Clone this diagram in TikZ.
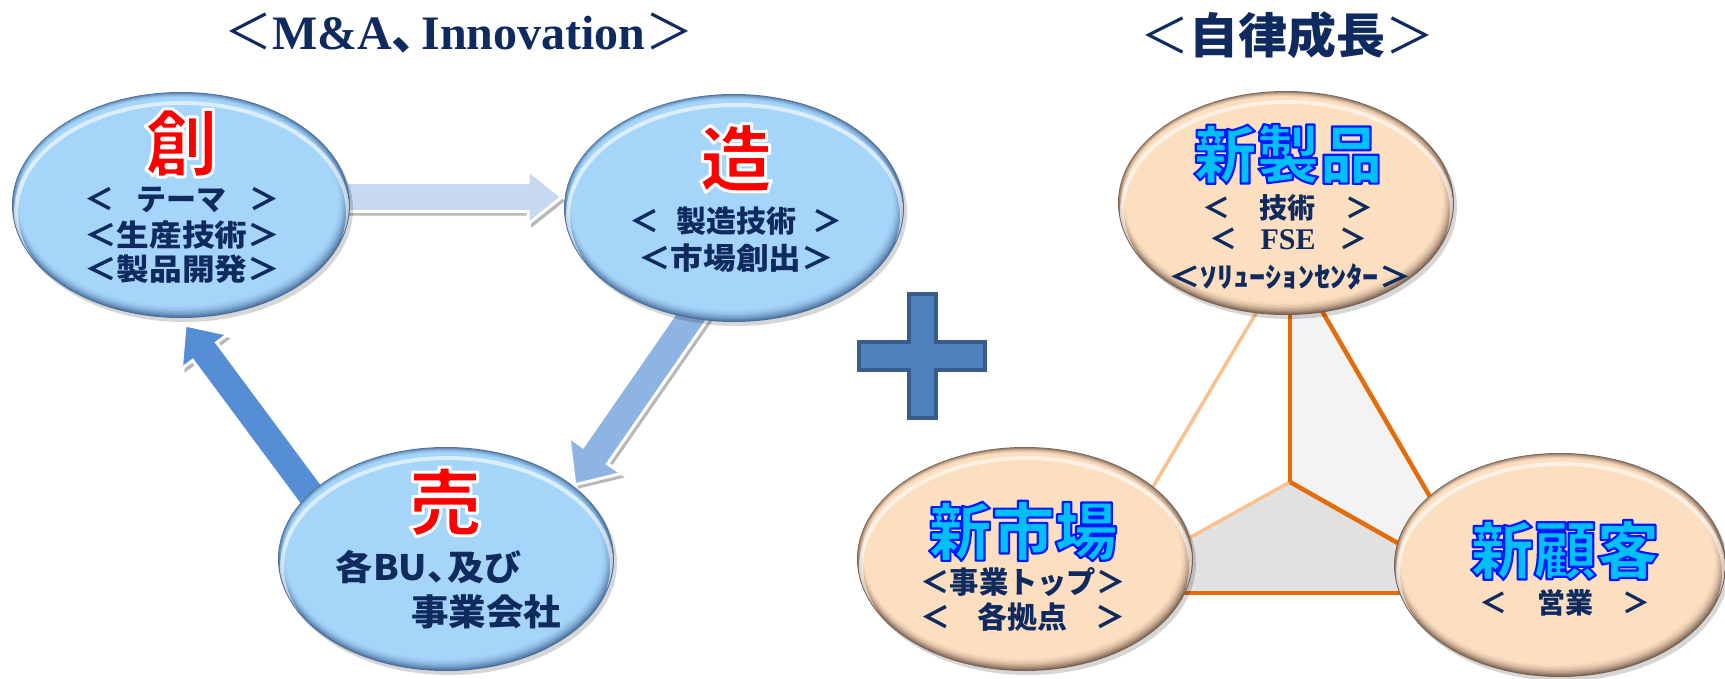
\documentclass[tikz,border=0pt]{standalone}
\usepackage{fontspec}
\setmainfont{Liberation Serif}
\newfontfamily\jp{Noto Sans CJK JP}
\usetikzlibrary{shapes.geometric,calc}
\definecolor{navy}{HTML}{0F2A5E}
\definecolor{bluebase}{HTML}{A6D5FA}
\definecolor{bluerim}{HTML}{4A6F9C}
\definecolor{peachbase}{HTML}{FCDEC0}
\definecolor{peachrim}{HTML}{7A6252}
\definecolor{arrA}{HTML}{C6D9F1}
\definecolor{arrB}{HTML}{8EB4E3}
\definecolor{arrC}{HTML}{558ED5}
\definecolor{plusfill}{HTML}{4F81BD}
\definecolor{plusline}{HTML}{385D8A}
\definecolor{darkor}{HTML}{E46C0A}
\definecolor{lightor}{HTML}{FAC090}
\definecolor{cyanhead}{HTML}{00C0FA}
\definecolor{faceA}{HTML}{F3F3F3}
\definecolor{faceB}{HTML}{E1E1E1}

% bevelled ellipse: cx, cy, rx, ry, base colour, rim colour
\newcommand\bevel[6]{%
  \fill[black, opacity=.16] (#1+3,#2+4) ellipse [x radius=#3, y radius=#4];
  \fill[#6] (#1,#2) ellipse [x radius=#3, y radius=#4];
  \foreach \i in {1,...,10} {%
    \pgfmathtruncatemacro\pc{100*(1-(1-\i/10)^2)}%
    \fill[#5!\pc!#6] (#1-0.25*\i,#2-0.35*\i) ellipse [x radius=#3-\i, y radius=#4-\i];
  }
  \begin{scope}
    \clip (#1,#2) ellipse [x radius=#3-1, y radius=#4-1];
    \draw[white, opacity=.6, line width=4pt] (#1+1,#2+8) ellipse [x radius=#3-3, y radius=#4-3];
  \end{scope}
}
% block arrow: start, tip, shaft half width, head half width, head length, colour
\newcommand\fatarrow[6]{%
  \coordinate (#2-b) at ($(#2)!#5pt!(#1)$);
  \fill[black, opacity=.28, transform canvas={shift={(3,4)}}]
    ($(#1)!#3pt!90:(#2)$) -- ($(#2-b)!#3pt!90:(#2)$) -- ($(#2-b)!#4pt!90:(#2)$) -- (#2)
    -- ($(#2-b)!#4pt!-90:(#2)$) -- ($(#2-b)!#3pt!-90:(#2)$) -- ($(#1)!#3pt!-90:(#2)$) -- cycle;
  \filldraw[fill=#6, draw=white, line width=3pt]
    ($(#1)!#3pt!90:(#2)$) -- ($(#2-b)!#3pt!90:(#2)$) -- ($(#2-b)!#4pt!90:(#2)$) -- (#2)
    -- ($(#2-b)!#4pt!-90:(#2)$) -- ($(#2-b)!#3pt!-90:(#2)$) -- ($(#1)!#3pt!-90:(#2)$) -- cycle;
}
% text filled in the current colour and stroked with an outline colour
\newcommand\outlined[3]{%
  \special{pdf:literal direct 2 Tr #2 w 1 j #1 RG}#3\special{pdf:literal direct 0 Tr}}

\tikzset{
  every node/.style={inner sep=0pt, outer sep=0pt},
  ell/.style={ellipse, inner sep=0pt, outer sep=0pt},
  t28/.style={font=\jp\bfseries\fontsize{28}{28}\selectfont, text=navy},
  t30/.style={font=\jp\bfseries\fontsize{30}{30}\selectfont, text=navy},
  t35/.style={font=\jp\bfseries\fontsize{35}{35}\selectfont, text=navy},
  t36/.style={font=\jp\bfseries\fontsize{36}{36}\selectfont, text=navy},
  redhd/.style={font=\jp\bfseries\fontsize{73}{73}\selectfont, text=red},
  cyhd/.style={font=\jp\bfseries\fontsize{63}{63}\selectfont, text=cyanhead},
  ttl/.style={font=\fontsize{48}{48}\selectfont\bfseries, text=navy},
  lor/.style={draw=lightor, line width=3.5pt},
  dor/.style={draw=darkor, line width=4.5pt},
}

\begin{document}
\begin{tikzpicture}[x=1pt, y=-1pt]
\fill[white] (0,0) rectangle (1725,678);
\useasboundingbox (0,0) rectangle (1725,678);

% ellipse nodes
\node[ell, minimum width=338pt, minimum height=226pt] (sou) at (181,205) {};
\node[ell, minimum width=340pt, minimum height=228pt] (zou) at (734,208) {};
\node[ell, minimum width=336pt, minimum height=224pt] (bai) at (446,559) {};
\node[ell, minimum width=336pt, minimum height=224pt] (seihin) at (1286,203) {};
\node[ell, minimum width=336pt, minimum height=224pt] (shijo) at (1025,559) {};
\node[ell, minimum width=332pt, minimum height=224pt] (kokyaku) at (1560,565) {};

% triangle
\coordinate (tA) at (1290,256);
\coordinate (tB) at (1090,593);
\coordinate (tC) at (1486,593);
\coordinate (tO) at (1290,482);
\fill[faceA] (tA) -- (tO) -- (tC) -- cycle;
\fill[faceB] (tB) -- (tO) -- (tC) -- cycle;
\draw[lor] (tA) -- (tB);
\draw[lor] (tO) -- (tB);
\draw[dor] (tA) -- (tC);
\draw[dor] (tB) -- (tC);
\draw[dor] (tO) -- (tA);
\draw[dor] (tO) -- (tC);

% arrows
\coordinate (a1s) at ($(sou.east)+(-10,-8)$);
\coordinate (a1t) at ($(zou.west)+(-2,-11)$);
\coordinate (a2s) at ($(zou.south)+(-34,-18)$);
\coordinate (a2t) at ($(bai.north east)+(10,5)$);
\coordinate (a3s) at ($(bai.north west)+(-5,30)$);
\coordinate (a3t) at ($(sou.south)+(4,7)$);
\fatarrow{a1s}{a1t}{14.5}{27}{34}{arrA}
\fatarrow{a2s}{a2t}{15}{32}{36}{arrB}
\fatarrow{a3s}{a3t}{15}{29}{33}{arrC}

% ellipses
\bevel{181}{205}{169}{113}{bluebase}{bluerim}
\bevel{734}{208}{170}{114}{bluebase}{bluerim}
\bevel{446}{559}{168}{112}{bluebase}{bluerim}
\bevel{1286}{203}{168}{112}{peachbase}{peachrim}
\bevel{1025}{559}{168}{112}{peachbase}{peachrim}
\bevel{1560}{565}{166}{112}{peachbase}{peachrim}

% plus sign
\draw[fill=plusfill, draw=plusline, line width=4pt]
  (909,294) -- (936,294) -- (936,342) -- (985,342) -- (985,370) -- (936,370)
  -- (936,418) -- (909,418) -- (909,370) -- (859,370) -- (859,342) -- (909,342) -- cycle;

% titles
\node[ttl] (title1) at (459,33) {{\jp\mdseries ＜}M\&A{\jp ､}\kern5pt Innovation{\jp\mdseries ＞}};
\node[ttl, font=\jp\fontsize{48}{48}\selectfont] (title2) at (1287,35)
  {\resizebox{294pt}{\height}{＜{\bfseries 自律成長}＞}};

% 創
\node[redhd] (souh) at (181,143) {\outlined{1 1 1}{3}{創}};
\node[t30] (sou1) at (182,200) {\makebox[196pt][s]{＜\hfill テーマ\hfill＞}};
\node[t30] (sou2) at (182,235) {\resizebox{196pt}{\height}{＜生産技術＞}};
\node[t30] (sou3) at (182,269) {\resizebox{196pt}{\height}{＜製品開発＞}};

% 造
\node[redhd] (zouh) at (736,158) {\outlined{1 1 1}{3}{造}};
\node[t30] (zou1) at (736,221) {\makebox[213pt][s]{＜\hfill 製造技術\hfill＞}};
\node[t30] (zou2) at (736,258) {\resizebox{196pt}{\height}{＜市場創出＞}};

% 売
\node[redhd] (baih) at (445,502) {\outlined{1 1 1}{3}{売}};
\node[t35] (bai1) at (429,567) {\resizebox{186pt}{\height}{各BU、\kern-.45em 及び}};
\node[t36] (bai2) at (486,612) {\resizebox{150pt}{\height}{事業会社}};

% 新製品
\node[cyhd] (seihinh) at (1288,154) {\outlined{0 0.1 1}{2.2}{新製品}};
\node[t28] (seihin1) at (1288,208) {\makebox[171pt][s]{＜\hfill 技術\hfill＞}};
\node[t28] (seihin2) at (1288,239) {\makebox[158pt][s]{＜\hfill{\rmfamily\fontsize{30}{30}\selectfont FSE}\hfill＞}};
\node[t28] (seihin3) at (1290,277) {\resizebox{243pt}{\height}{＜ｿﾘｭｰｼｮﾝｾﾝﾀｰ＞}};

% 新市場
\node[cyhd] (shijoh) at (1023,531) {\outlined{0 0.1 1}{2.2}{新市場}};
\node[t30] (shijo1) at (1023,582) {\resizebox{205pt}{\height}{＜事業トップ＞}};
\node[t30] (shijo2) at (1023,617) {\makebox[205pt][s]{＜\hfill 各拠点\hfill＞}};

% 新顧客
\node[cyhd] (kokyakuh) at (1565,550) {\outlined{0 0.1 1}{2.2}{新顧客}};
\node[t28] (kokyaku1) at (1565,603) {\makebox[172pt][s]{＜\hfill 営業\hfill＞}};
\end{tikzpicture}
\end{document}
